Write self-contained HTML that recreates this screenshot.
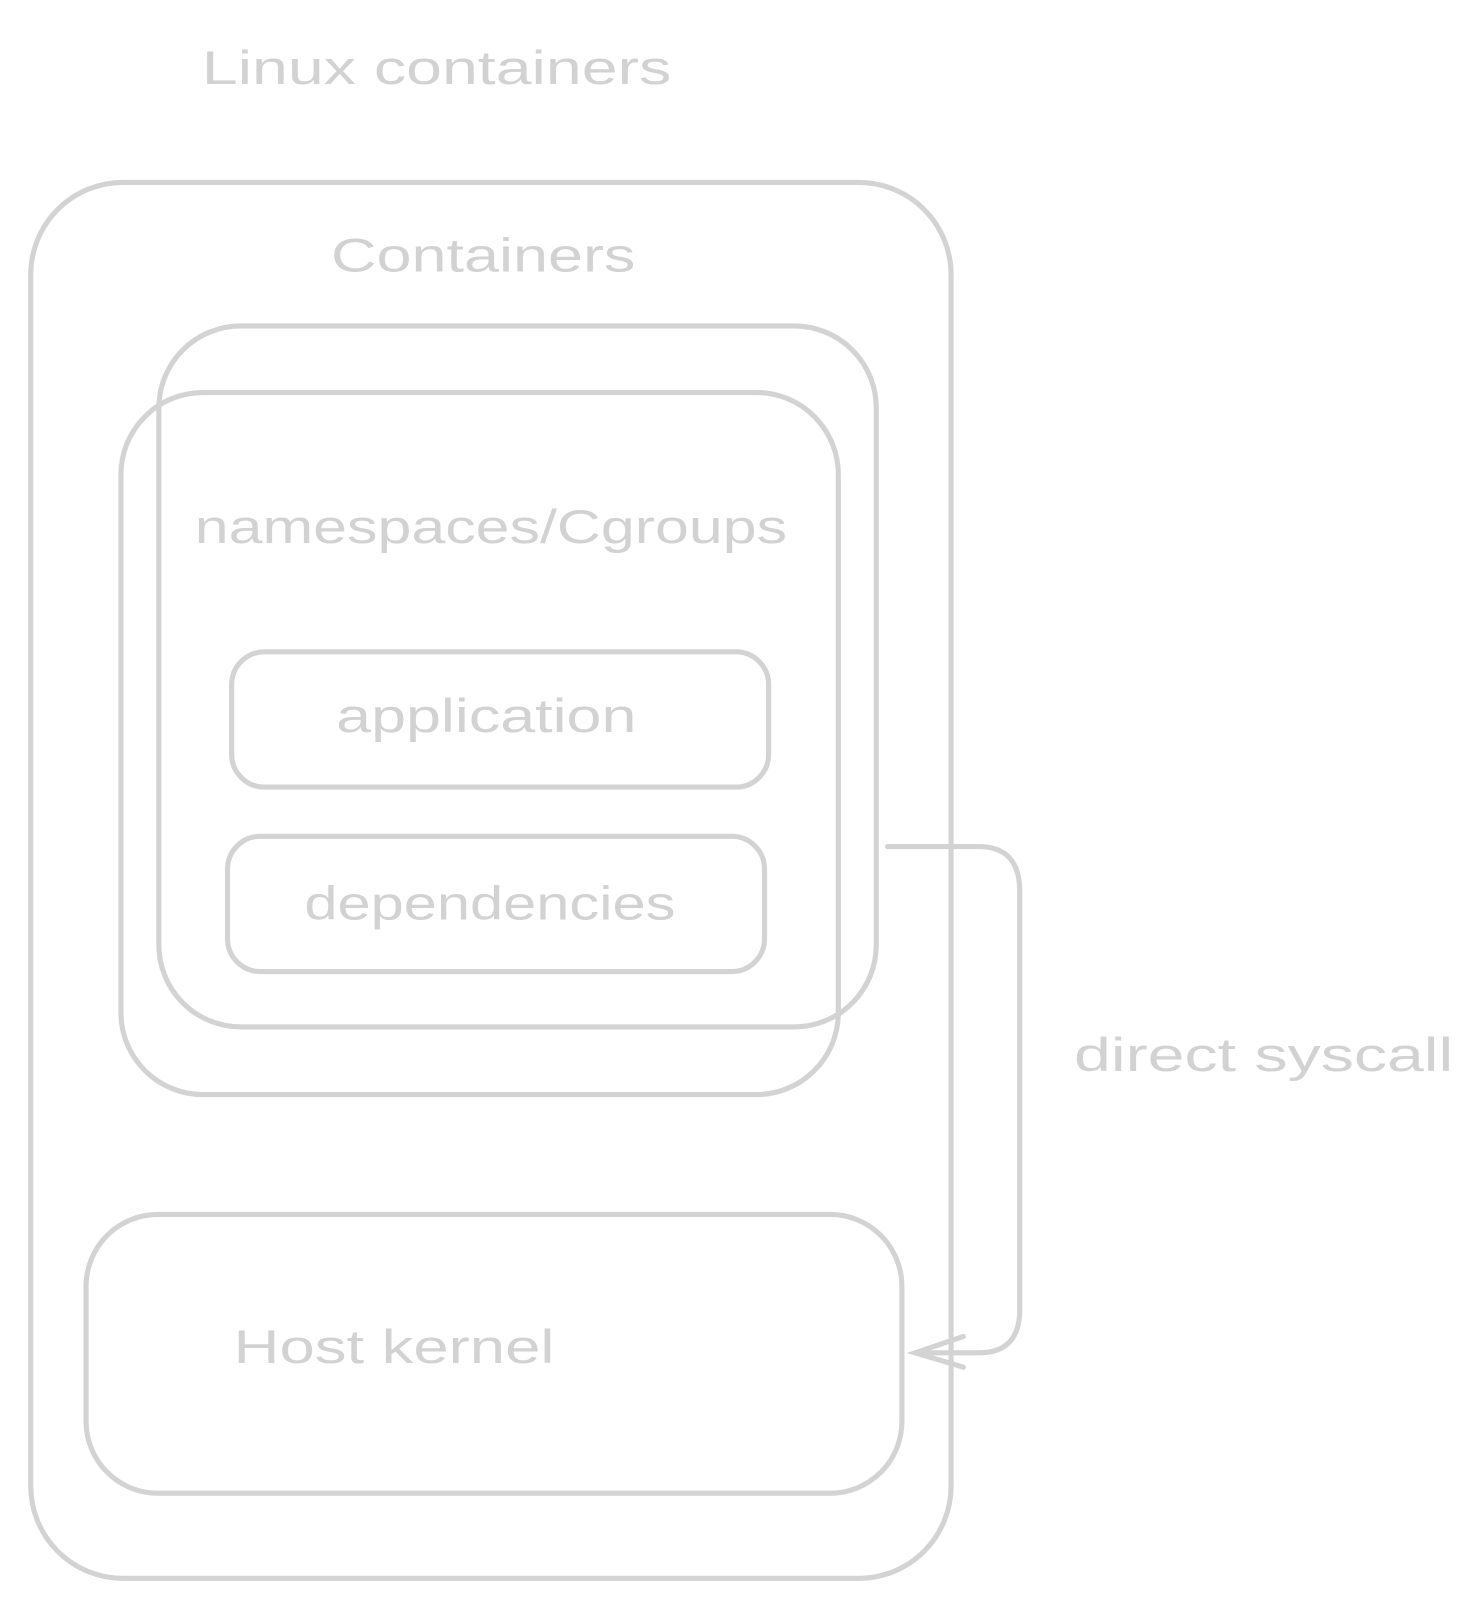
<!DOCTYPE html>
<html><head><meta charset="utf-8"><style>
html,body{margin:0;padding:0;background:#fff;}
svg{display:block;}
text{font-family:"Liberation Sans",sans-serif;fill:#d2d2d2;}
</style></head><body>
<svg width="1484" height="1606" viewBox="0 0 1448 1567" xmlns="http://www.w3.org/2000/svg">
<g fill="none" stroke="#d3d3d3" stroke-width="5" stroke-linecap="round">
<rect x="30" y="178" width="898" height="1362" rx="90"/>
<rect x="155" y="318" width="700" height="684" rx="80"/>
<rect x="118" y="383" width="700" height="685" rx="80"/>
<rect x="226" y="636" width="524" height="132" rx="32"/>
<rect x="222" y="816" width="524" height="132" rx="32"/>
<rect x="84" y="1185" width="796" height="272" rx="70"/>
<path d="M866 826 L955 826 Q995 826 995 870 L995 1278 Q995 1320 955 1320 L893 1320"/>
<path d="M940 1304 L893 1320 L940 1334"/>
</g>
<text x="197" y="82" font-size="46" textLength="458" lengthAdjust="spacingAndGlyphs">Linux containers</text>
<text x="323" y="265" font-size="46" textLength="297" lengthAdjust="spacingAndGlyphs">Containers</text>
<text x="190" y="530" font-size="46" textLength="578" lengthAdjust="spacingAndGlyphs">namespaces/Cgroups</text>
<text x="328" y="714" font-size="46" textLength="293" lengthAdjust="spacingAndGlyphs">application</text>
<text x="297" y="897" font-size="46" textLength="362" lengthAdjust="spacingAndGlyphs">dependencies</text>
<text x="228" y="1330" font-size="46" textLength="313" lengthAdjust="spacingAndGlyphs">Host kernel</text>
<text x="1048" y="1045" font-size="46" textLength="370" lengthAdjust="spacingAndGlyphs">direct syscall</text>
</svg>
</body></html>
